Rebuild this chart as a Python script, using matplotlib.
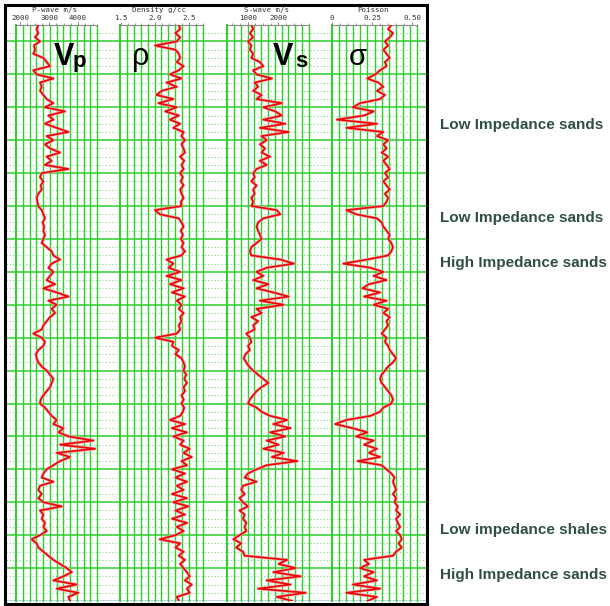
import numpy as np
import matplotlib
matplotlib.use("Agg")
import matplotlib.pyplot as plt
from matplotlib.ticker import MultipleLocator

# ---------------- data ----------------
DEPTH = np.arange(0, 1750.1, 12.5)   # depth samples (top -> bottom)

VP = [2630, 2575, 2630, 2520, 2690, 2480, 2520, 2460, 2805, 2920,
      3035, 2460, 2575, 3150, 2690, 2750, 2690, 2805, 2920, 3150,
      2860, 3550, 2980, 3150, 2860, 3265, 3670, 2920, 3150, 2860,
      3035, 3380, 2920, 3090, 2860, 3670, 2750, 2690, 2805, 2715,
      2750, 2630, 2575, 2600, 2630, 2750, 2805, 2860, 2780, 2830,
      2805, 2860, 2805, 2750, 2920, 3090, 3150, 3380, 3090, 2980,
      3150, 3035, 2920, 3210, 2805, 3265, 3670, 2980, 3265, 3090,
      3210, 3035, 2920, 2805, 2750, 2460, 2750, 2860, 2805, 2630,
      2550, 2575, 2630, 2750, 2920, 3035, 3150, 3090, 3035, 2920,
      2805, 2715, 2690, 2860, 2980, 3090, 3265, 3150, 3495, 3325,
      3670, 4530, 3380, 4590, 3265, 3725, 3380, 3150, 2920, 2805,
      2750, 3150, 2690, 2630, 2750, 2630, 2805, 3440, 2690, 2805,
      2750, 2860, 2805, 2920, 2690, 2400, 2575, 2630, 2805, 2980,
      3150, 3380, 3610, 3785, 3495, 3150, 3955, 3265, 4010, 3670,
      3725]

RHO = [2.35, 2.37, 2.30, 2.37, 2.32, 2.00, 2.30, 2.35, 2.37, 2.32,
       2.42, 2.35, 2.22, 2.39, 2.17, 2.32, 2.10, 2.02, 2.27, 2.05,
       2.32, 2.15, 2.35, 2.22, 2.37, 2.27, 2.42, 2.39, 2.44, 2.39,
       2.42, 2.44, 2.37, 2.43, 2.39, 2.42, 2.37, 2.41, 2.38, 2.42,
       2.37, 2.39, 2.42, 2.38, 2.39, 2.00, 2.07, 2.35, 2.39, 2.42,
       2.38, 2.41, 2.38, 2.42, 2.39, 2.44, 2.39, 2.17, 2.27, 2.20,
       2.37, 2.17, 2.39, 2.22, 2.42, 2.25, 2.44, 2.32, 2.39, 2.35,
       2.42, 2.37, 2.39, 2.35, 2.37, 2.32, 2.00, 2.27, 2.25, 2.35,
       2.30, 2.39, 2.42, 2.44, 2.42, 2.46, 2.43, 2.47, 2.42, 2.44,
       2.39, 2.42, 2.39, 2.43, 2.41, 2.37, 2.22, 2.44, 2.25, 2.47,
       2.27, 2.42, 2.37, 2.51, 2.42, 2.54, 2.39, 2.47, 2.25, 2.44,
       2.30, 2.47, 2.32, 2.42, 2.25, 2.47, 2.27, 2.49, 2.30, 2.44,
       2.25, 2.47, 2.32, 2.42, 2.30, 2.07, 2.37, 2.30, 2.42, 2.35,
       2.44, 2.37, 2.42, 2.47, 2.51, 2.44, 2.54, 2.47, 2.51, 2.32,
       2.35]

VS = [1120, 1180, 1070, 1180, 1010, 1120, 1070, 1180, 1120, 1400,
      1510, 1180, 1290, 1790, 1230, 1340, 1180, 1455, 1290, 2120,
      1510, 1900, 2120, 1510, 2230, 1400, 2340, 1455, 1620, 1400,
      1565, 1455, 1730, 1400, 1620, 1290, 1180, 1230, 1120, 1290,
      1180, 1230, 1120, 1180, 1120, 1950, 2065, 1510, 1340, 1290,
      1340, 1400, 1455, 1290, 1120, 1070, 1120, 2065, 2510, 1620,
      1290, 1510, 1180, 1675, 1290, 1840, 2340, 1400, 2175, 1290,
      1455, 1120, 1340, 1180, 1230, 955, 1070, 1120, 1010, 1070,
      930, 870, 955, 1040, 1180, 1340, 1510, 1675, 1455, 1290,
      1180, 1070, 1010, 1290, 1455, 1730, 2290, 1840, 2400, 1730,
      2230, 1620, 2010, 1510, 2175, 1790, 2620, 1620, 1290, 1010,
      900, 1290, 845, 790, 900, 735, 845, 1010, 735, 900,
      845, 955, 900, 955, 735, 535, 790, 620, 845, 900,
      2290, 2010, 2565, 1840, 2730, 1620, 2400, 1340, 2900, 1950,
      2455]

SIGMA = [0.37, 0.35, 0.38, 0.36, 0.33, 0.35, 0.32, 0.34, 0.36, 0.33,
         0.34, 0.30, 0.27, 0.22, 0.29, 0.32, 0.28, 0.33, 0.30, 0.175,
         0.13, 0.26, 0.20, 0.03, 0.28, 0.09, 0.32, 0.28, 0.35, 0.32,
         0.34, 0.31, 0.35, 0.32, 0.34, 0.36, 0.33, 0.35, 0.32, 0.34,
         0.36, 0.33, 0.35, 0.34, 0.32, 0.09, 0.15, 0.28, 0.31, 0.32,
         0.34, 0.36, 0.35, 0.37, 0.38, 0.37, 0.35, 0.22, 0.07, 0.24,
         0.32, 0.26, 0.34, 0.23, 0.19, 0.30, 0.20, 0.34, 0.26, 0.35,
         0.32, 0.36, 0.34, 0.35, 0.33, 0.31, 0.34, 0.33, 0.35, 0.36,
         0.38, 0.40, 0.38, 0.35, 0.33, 0.31, 0.30, 0.31, 0.33, 0.35,
         0.37, 0.38, 0.37, 0.32, 0.30, 0.24, 0.09, 0.02, 0.13, 0.22,
         0.15, 0.26, 0.20, 0.28, 0.23, 0.30, 0.16, 0.31, 0.34, 0.37,
         0.39, 0.38, 0.39, 0.40, 0.38, 0.40, 0.39, 0.41, 0.40, 0.425,
         0.40, 0.41, 0.425, 0.40, 0.425, 0.435, 0.415, 0.435, 0.40, 0.38,
         0.20, 0.23, 0.175, 0.26, 0.20, 0.28, 0.13, 0.30, 0.09, 0.28,
         0.22]

TRACK_TITLES = ["P-wave m/s", "Density g/cc", "S-wave m/s", "Poisson"]
TRACK_TICKS = [[2000, 3000, 4000], [1.5, 2.0, 2.5], [1000, 2000], [0, 0.25, 0.50]]
TRACK_TICKLABELS = [["2000", "3000", "4000"], ["1.5", "2.0", "2.5"],
                    ["1000", "2000"], ["0", "0.25", "0.50"]]
ANNOTATIONS = ["Low Impedance sands", "Low Impedance sands", "High Impedance sands",
               "Low impedance shales", "High Impedance sands"]
ANNOT_DEPTH = [304, 586, 723, 1534, 1671]

# ---------------- layout ----------------
W, H = 610, 606
fig = plt.figure(figsize=(W / 100, H / 100), dpi=100)
fig.patch.set_facecolor("white")


def rect(x0, y0, x1, y1):
    return [x0 / W, 1 - y1 / H, (x1 - x0) / W, (y1 - y0) / H]


GREEN = "#2ccf2c"
DTOP, DBOT = 0, 1750

# background grid (horizontal lines across the whole panel)
gax = fig.add_axes(rect(6, 25, 426, 601))
gax.set_xlim(0, 1)
gax.set_ylim(DBOT, DTOP)
gax.axis("off")
for d in np.arange(25, DBOT, 25):
    if (d - 50) % 100 == 0:
        gax.axhline(d, color=GREEN, lw=1.1, zorder=1)
    else:
        gax.axhline(d, color="#7fd87f", lw=0.7, ls=(0, (1.2, 2.2)), zorder=1)
gax.axhline(DBOT, color="#a9c8e0", lw=1.2, zorder=1)

# frame
fax = fig.add_axes(rect(5, 5, 427, 604))
fax.set_xticks([]); fax.set_yticks([])
fax.patch.set_alpha(0)
for s in fax.spines.values():
    s.set_linewidth(2.2)
    s.set_color("black")

track_px = [(16, 97), (120, 203), (227, 309), (332, 417)]
track_lims = [(1862, 4655), (1.485, 2.706), (324, 3003), (0.0, 0.53)]
minor_steps = [250, 0.1, 250, 0.05]
curves = [VP, RHO, VS, SIGMA]

for k in range(4):
    x0, x1 = track_px[k]
    ax = fig.add_axes(rect(x0, 25, x1, 601))
    ax.patch.set_alpha(0)
    lo, hi = track_lims[k]
    ax.set_xlim(lo, hi)
    ax.set_ylim(DBOT, DTOP)
    for v in np.linspace(lo, hi, 13):
        edge = abs(v - lo) < 1e-9
        ax.axvline(v, color=GREEN, lw=1.4 if edge else 1.0, zorder=1, clip_on=False)
    ax.plot(curves[k], DEPTH, color="#e9a3a3", lw=2.2, zorder=3)
    ax.plot(curves[k], DEPTH, color="#ee0000", lw=1.15, zorder=4)
    for side in ("left", "right", "bottom"):
        ax.spines[side].set_visible(False)
    ax.spines["top"].set_color("#8a8a8a")
    ax.spines["top"].set_linewidth(0.8)
    ax.set_yticks([])
    ax.xaxis.tick_top()
    ax.set_xticks(TRACK_TICKS[k])
    ax.set_xticklabels(TRACK_TICKLABELS[k])
    ax.xaxis.set_minor_locator(MultipleLocator(minor_steps[k]))
    ax.tick_params(axis="x", which="major", length=2.2, width=0.6, color="#777777",
                   labelsize=5.4, pad=0.8, labelcolor="#333333")
    ax.tick_params(axis="x", which="minor", length=1.6, width=0.5, color="#777777")
    for lab in ax.get_xticklabels():
        lab.set_fontfamily("DejaVu Sans Mono")
    fig.text((x0 + x1) / 2 / W - 2 / W, 1 - 10 / H, TRACK_TITLES[k], ha="center", va="center",
             fontsize=5.4, family="DejaVu Sans Mono", color="#333333")


def px(x, y):
    return x / W, 1 - y / H


# big curve symbols
fig.text(*px(54, 65), "V", fontsize=22, fontweight="bold", family="Liberation Sans",
         ha="left", va="baseline")
fig.text(*px(73, 67), "p", fontsize=16, fontweight="bold", family="Liberation Sans",
         ha="left", va="baseline")
fig.text(*px(132, 65), "ρ", fontsize=22, family="Liberation Sans",
         ha="left", va="baseline")
fig.text(*px(273, 65), "V", fontsize=22, fontweight="bold", family="Liberation Sans",
         ha="left", va="baseline")
fig.text(*px(295, 67), "s", fontsize=16, fontweight="bold", family="Liberation Sans",
         ha="left", va="baseline")
fig.text(*px(349, 65), "σ", fontsize=21, family="Liberation Sans",
         ha="left", va="baseline")

# annotations on the right, placed by depth via the grid axes transform
for txt, d in zip(ANNOTATIONS, ANNOT_DEPTH):
    gax.text(1.0 + 14 / 420, d, txt, transform=gax.get_yaxis_transform(),
             ha="left", va="center", fontsize=11.0, fontweight="bold",
             family="Liberation Sans", color="#2f4f45", clip_on=False)

fig.savefig("out.png", dpi=100)
